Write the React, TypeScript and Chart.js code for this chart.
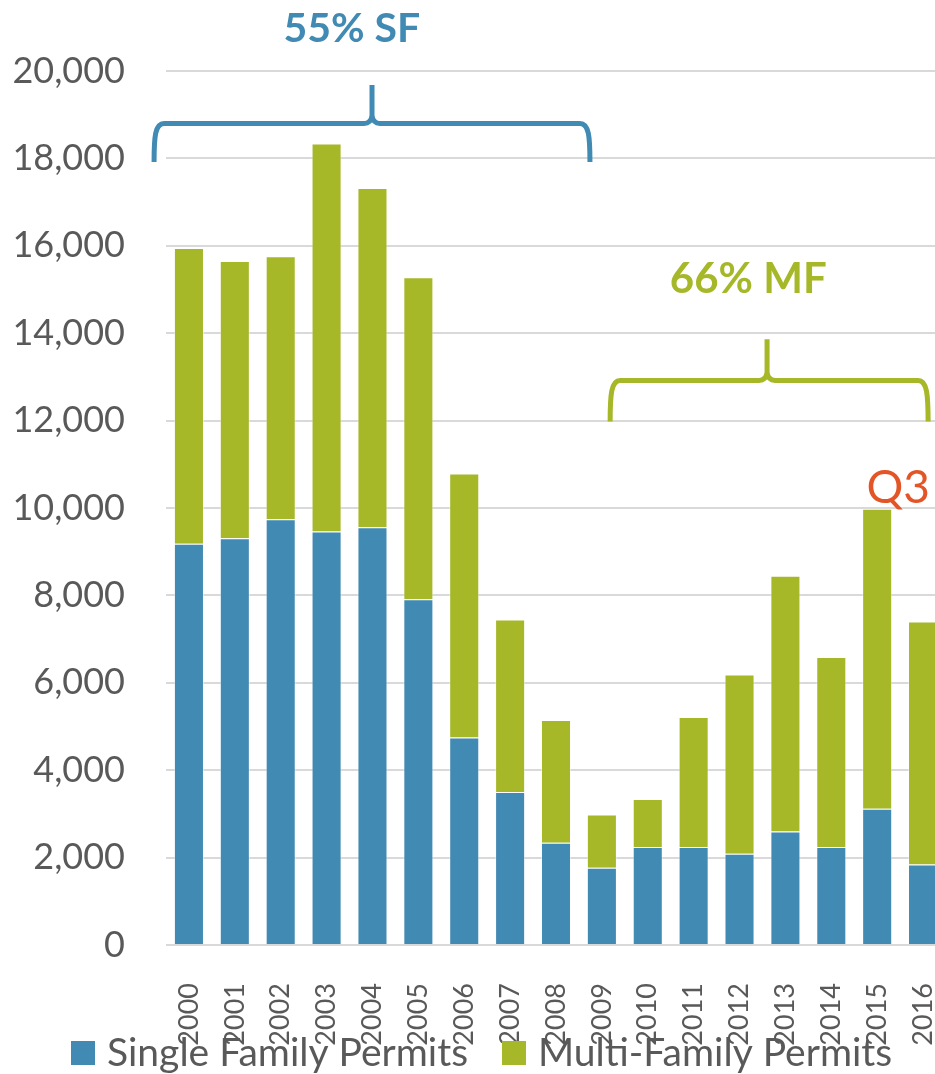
import React, { useEffect, useRef } from 'react';
import { Chart, registerables } from 'chart.js';

Chart.register(...registerables);

const years = ['2000', '2001', '2002', '2003', '2004', '2005', '2006', '2007', '2008', '2009', '2010', '2011', '2012', '2013', '2014', '2015', '2016'];
const singleFamily = [9180, 9310, 9740, 9460, 9560, 7910, 4750, 3500, 2340, 1770, 2245, 2245, 2090, 2600, 2245, 3115, 1840];
const multiFamily = [6770, 6345, 6020, 8880, 7765, 7370, 6040, 3950, 2810, 1215, 1095, 2970, 4100, 5850, 4345, 6865, 5565];
const seriesLabels = ['Single Family Permits', 'Multi-Family Permits'];
const yMin = 0;
const yMax = 20000;
const yStep = 2000;

const BLUE = '#418ab3';
const GREEN = '#a6b728';
const ORANGE = '#e35527';
const GRAY = '#595959';
const FONT = 'Lato';

// annotation anchors in data units (category index, value)
const sfBrace = { x1: -0.76, x2: 8.74, peak: 3.99, bar: 18800, end: 17920, top: 19680 };
const mfBrace = { x1: 9.18, x2: 16.11, peak: 12.6, bar: 12920, end: 11980, top: 13860 };
const sfText = { text: '55% SF', x: 3.55, y: 20660 };
const mfText = { text: '66% MF', x: 12.19, y: 14910 };
const q3Text = { text: 'Q3', x: 15.46, y: 10120 };

function drawBrace(ctx: CanvasRenderingContext2D, xs: any, ys: any, b: any, color: string) {
  const x1 = xs.getPixelForValue(b.x1);
  const x2 = xs.getPixelForValue(b.x2);
  const xp = xs.getPixelForValue(b.peak);
  const yb = ys.getPixelForValue(b.bar);
  const ye = ys.getPixelForValue(b.end);
  const yt = ys.getPixelForValue(b.top);
  const r = 10;
  const rp = 8;
  ctx.save();
  ctx.strokeStyle = color;
  ctx.lineWidth = 5;
  ctx.lineJoin = 'round';
  ctx.lineCap = 'butt';
  ctx.beginPath();
  ctx.moveTo(x1, ye);
  ctx.bezierCurveTo(x1, yb + (ye - yb) * 0.35, x1 + 1, yb, x1 + r, yb);
  ctx.lineTo(xp - rp, yb);
  ctx.quadraticCurveTo(xp - 1, yb, xp, yb - rp);
  ctx.lineTo(xp, yt);
  ctx.moveTo(xp, yb - rp);
  ctx.quadraticCurveTo(xp + 1, yb, xp + rp, yb);
  ctx.lineTo(x2 - r, yb);
  ctx.bezierCurveTo(x2 - 1, yb, x2, yb + (ye - yb) * 0.35, x2, ye);
  ctx.stroke();
  ctx.restore();
}

function drawText(ctx: CanvasRenderingContext2D, xs: any, ys: any, t: any, color: string, font: string) {
  ctx.save();
  ctx.fillStyle = color;
  ctx.font = font;
  ctx.textAlign = 'center';
  ctx.textBaseline = 'alphabetic';
  ctx.fillText(t.text, xs.getPixelForValue(t.x), ys.getPixelForValue(t.y));
  ctx.restore();
}

const annotationPlugin = {
  id: 'annotations',
  afterDraw(chart: any) {
    const ctx = chart.ctx as CanvasRenderingContext2D;
    const xs = chart.scales.x;
    const ys = chart.scales.y;
    drawBrace(ctx, xs, ys, sfBrace, BLUE);
    drawBrace(ctx, xs, ys, mfBrace, GREEN);
    drawText(ctx, xs, ys, sfText, BLUE, `bold 41px ${FONT}`);
    drawText(ctx, xs, ys, mfText, GREEN, `bold 42px ${FONT}`);
    drawText(ctx, xs, ys, q3Text, ORANGE, `46px ${FONT}`);

    // legend (drawn overlapping the axis labels as in the reference)
    const colors = [BLUE, GREEN];
    const starts = [71, 502];
    ctx.save();
    ctx.font = `39px ${FONT}`;
    ctx.textBaseline = 'alphabetic';
    ctx.textAlign = 'left';
    seriesLabels.forEach((lbl, i) => {
      ctx.fillStyle = colors[i];
      ctx.fillRect(starts[i], 1041, 24, 24);
      ctx.fillStyle = GRAY;
      ctx.fillText(lbl, starts[i] + 36, 1066);
    });
    ctx.restore();
  },
};

export default function App() {
  const ref = useRef<HTMLCanvasElement | null>(null);
  useEffect(() => {
    if (!ref.current) return;
    const chart = new Chart(ref.current, {
      type: 'bar',
      data: {
        labels: years,
        datasets: [
          {
            label: seriesLabels[0],
            data: singleFamily,
            backgroundColor: BLUE,
            borderColor: 'rgba(255,255,255,0.45)',
            borderWidth: 1,
          },
          {
            label: seriesLabels[1],
            data: multiFamily,
            backgroundColor: GREEN,
            borderColor: 'rgba(255,255,255,0.45)',
            borderWidth: 1,
          },
        ],
      },
      options: {
        animation: false,
        responsive: false,
        maintainAspectRatio: false,
        layout: { padding: { top: 71, left: 0, right: 0, bottom: 0 } },
        plugins: {
          legend: { display: false },
          tooltip: { enabled: false },
        },
        datasets: {
          bar: { categoryPercentage: 1, barPercentage: 0.655 },
        },
        scales: {
          x: {
            stacked: true,
            grid: { display: false },
            border: { display: false },
            ticks: {
              autoSkip: false,
              maxRotation: 90,
              minRotation: 90,
              color: GRAY,
              padding: 30,
              font: { family: FONT, size: 27 },
            },
            afterFit(scale: any) {
              scale.height = 129;
              scale.paddingLeft = 0;
              scale.paddingRight = 0;
            },
          },
          y: {
            stacked: true,
            min: yMin,
            max: yMax,
            grid: { color: '#d9d9d9', lineWidth: 2, drawTicks: false },
            border: { display: false },
            ticks: {
              stepSize: yStep,
              color: GRAY,
              padding: 41,
              font: { family: FONT, size: 36 },
              callback: (v: any) => Number(v).toLocaleString('en-US'),
            },
            afterFit(scale: any) {
              scale.width = 166;
              scale.paddingTop = 0;
              scale.paddingBottom = 0;
            },
          },
        },
      },
      plugins: [annotationPlugin],
    });
    return () => chart.destroy();
  }, []);

  return (
    <div style={{ position: 'fixed', left: 0, top: 0, width: 935, height: 1074, overflow: 'hidden', background: '#fff' }}>
      <canvas ref={ref} width={946} height={1074} style={{ display: 'block', width: 946, height: 1074 }} />
    </div>
  );
}
